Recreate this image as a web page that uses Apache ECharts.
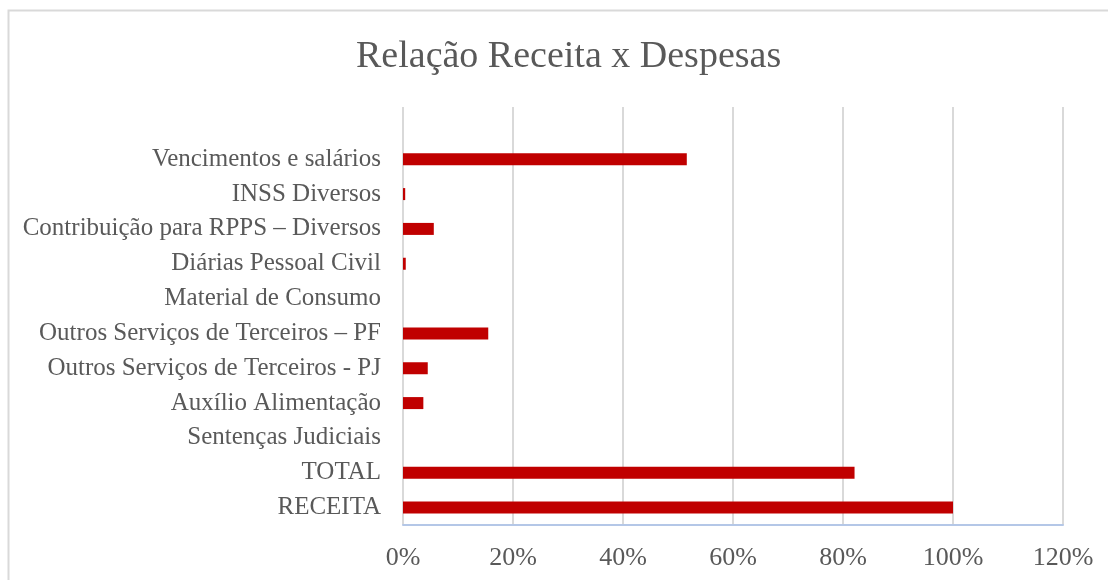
<!DOCTYPE html>
<html>
<head>
<meta charset="utf-8">
<title>Relação Receita x Despesas</title>
<script src="https://cdn.jsdelivr.net/npm/echarts@6/dist/echarts.min.js"></script>
<style>
  html, body { margin: 0; padding: 0; background: #fff; }
  #chart { width: 1108px; height: 580px; }
</style>
</head>
<body>
<div id="chart"></div>
<script>
  // categorias de cima para baixo (a primeira fica vazia, como no original)
  var categorias = [
    '',
    'Vencimentos e salários',
    'INSS Diversos',
    'Contribuição para RPPS – Diversos',
    'Diárias Pessoal Civil',
    'Material de Consumo',
    'Outros Serviços de Terceiros – PF',
    'Outros Serviços de Terceiros - PJ',
    'Auxílio Alimentação',
    'Sentenças Judiciais',
    'TOTAL',
    'RECEITA'
  ]
  // percentual em relação à receita
  var valores = [null, 51.6, 0.4, 5.6, 0.5, 0, 15.5, 4.5, 3.7, 0, 82.1, 100]
  var eixoMin = 0
  var eixoMax = 120
  var eixoPasso = 20

  var fonte = '"Liberation Serif", "DejaVu Serif", serif'
  var cinza = '#595959'

  var chart = echarts.init(document.getElementById('chart'), null, { renderer: 'canvas' })
  chart.setOption({
    animation: false,
    backgroundColor: '#ffffff',
    title: {
      text: 'Relação Receita x Despesas',
      left: 351,
      top: 33,
      textStyle: {
        fontFamily: fonte,
        fontSize: 38,
        fontWeight: 'normal',
        color: cinza
      }
    },
    graphic: [{
      type: 'rect',
      shape: { x: 8.5, y: 10.5, width: 1120, height: 600 },
      style: { fill: 'none', stroke: '#d9d9d9', lineWidth: 2 },
      silent: true
    }],
    grid: {
      left: 403,
      right: 45,
      top: 107,
      bottom: 55,
      containLabel: false
    },
    xAxis: {
      type: 'value',
      min: eixoMin,
      max: eixoMax,
      interval: eixoPasso,
      axisLine: {
        show: true,
        lineStyle: { color: '#b4c7e7', width: 2 }
      },
      axisTick: { show: false },
      axisLabel: {
        formatter: '{value}%',
        fontFamily: fonte,
        fontSize: 26,
        color: cinza,
        margin: 20
      },
      splitLine: {
        show: true,
        lineStyle: { color: '#d9d9d9', width: 2 }
      }
    },
    yAxis: {
      type: 'category',
      data: categorias,
      inverse: true,
      axisLine: { show: false },
      axisTick: { show: false },
      axisLabel: {
        fontFamily: fonte,
        fontSize: 25,
        color: cinza,
        margin: 22
      }
    },
    series: [{
      type: 'bar',
      data: valores,
      barWidth: 12,
      itemStyle: { color: '#c00000' }
    }]
  })
</script>
</body>
</html>
